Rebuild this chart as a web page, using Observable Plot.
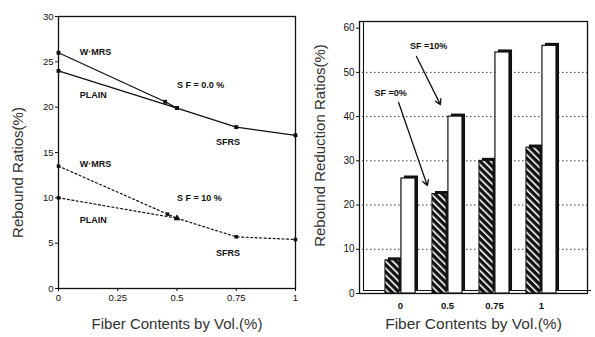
<!DOCTYPE html>
<html><head><meta charset="utf-8">
<script src="https://cdn.jsdelivr.net/npm/d3@7"></script>
<script src="https://cdn.jsdelivr.net/npm/@observablehq/plot@0.6"></script>
<style>
body{margin:0;background:#fff;width:595px;height:337px;overflow:hidden;position:relative;font-family:"Liberation Sans",Arial,sans-serif;}
#left{position:absolute;left:0;top:0;}
#right{position:absolute;left:300px;top:0;}
</style></head><body>
<div id="left"></div><div id="right"></div>
<script>
// ---------- Left panel data ----------
const leftXTicks = [0, 0.25, 0.5, 0.75, 1];
const leftYTicks = [0, 5, 10, 15, 20, 25, 30];
const wmrs0X = [0, 0.45, 0.5],  wmrs0Y = [26, 20.6, 19.9];
const plain0X = [0, 0.5],       plain0Y = [24, 19.9];
const sfrs0X = [0.5, 0.75, 1],  sfrs0Y = [19.9, 17.8, 16.9];
const wmrs10X = [0, 0.46, 0.5], wmrs10Y = [13.5, 8.2, 7.75];
const plain10X = [0, 0.5],      plain10Y = [10, 7.75];
const sfrs10X = [0.5, 0.75, 1], sfrs10Y = [7.75, 5.7, 5.4];
const leftLabelText = ["W·MRS", "PLAIN", "S F = 0.0 %", "SFRS", "W·MRS", "S F = 10 %", "PLAIN", "SFRS"];
const leftLabelX = [0.09, 0.09, 0.5, 0.665, 0.09, 0.5, 0.09, 0.665];
const leftLabelY = [26.1, 21.3, 22.4, 16.1, 13.7, 10.0, 7.5, 3.9];

// ---------- Right panel data ----------
const categories = ["0", "0.5", "0.75", "1"];
const sf0 = [7.5, 22.5, 30, 33];
const sf10 = [26, 40, 54.5, 56];
const rightYTicks = [0, 10, 20, 30, 40, 50, 60];
const gridY = [10, 20, 30, 40, 50];
const noteText = ["SF =10%", "SF =0%"];
const noteX = [0.6, -0.21];
const noteY = [56, 45.2];
const arrowFromX = [0.34, -0.04], arrowFromY = [53.6, 43.2];
const arrowToX = [0.85, 0.57],   arrowToY = [42.7, 24.4];

const pts = (xs, ys) => xs.map((x, i) => ({x, y: ys[i]}));
const font = '"Liberation Sans", Arial, Helvetica, sans-serif';

// ---------- Left chart ----------
const solid = {x: "x", y: "y", stroke: "#111", strokeWidth: 1.3};
const dotted = {x: "x", y: "y", stroke: "#111", strokeWidth: 1.2, strokeDasharray: "2,2.5"};
const dotOpt = {x: "x", y: "y", r: 2, fill: "#111"};
const leftLabels = leftLabelText.map((t, i) => ({t, x: leftLabelX[i], y: leftLabelY[i]}));

const left = Plot.plot({
  width: 300, height: 337,
  marginLeft: 58, marginRight: 5, marginTop: 16, marginBottom: 49,
  x: {domain: [0, 1]},
  y: {domain: [0, 30]},
  style: {fontFamily: font, fontSize: "9px", color: "#111", background: "transparent"},
  marks: [
    Plot.frame({stroke: "#111", strokeWidth: 1.3}),
    Plot.axisX({ticks: leftXTicks, tickFormat: d => String(d), tickSize: 3, tickPadding: 3, label: null, fontSize: 9.5}),
    Plot.axisY({ticks: leftYTicks, tickFormat: d => String(d), tickSize: 3, tickPadding: 2, label: null, fontSize: 9.5}),
    Plot.line(pts(wmrs0X, wmrs0Y), solid),
    Plot.line(pts(plain0X, plain0Y), solid),
    Plot.line(pts(sfrs0X, sfrs0Y), solid),
    Plot.line(pts(wmrs10X, wmrs10Y), dotted),
    Plot.line(pts(plain10X, plain10Y), dotted),
    Plot.line(pts(sfrs10X, sfrs10Y), dotted),
    Plot.dot([...pts(wmrs0X, wmrs0Y), ...pts(plain0X, plain0Y), ...pts(sfrs0X, sfrs0Y)], {...dotOpt, symbol: "square", r: 2.2}),
    Plot.dot([...pts(wmrs10X.slice(0, 2), wmrs10Y.slice(0, 2)), ...pts(plain10X.slice(0, 1), plain10Y.slice(0, 1)), ...pts(sfrs10X.slice(1), sfrs10Y.slice(1))], {...dotOpt, symbol: "square", r: 2}),
    Plot.dot(pts([0.5], [7.75]), {...dotOpt, symbol: "triangle", r: 2.6}),
    Plot.text(leftLabels, {x: "x", y: "y", text: "t", textAnchor: "start", fontSize: 9, fontWeight: "bold", fill: "#111"}),
    Plot.text(["Fiber Contents by Vol.(%)"], {frameAnchor: "bottom", textAnchor: "middle", dy: 40, fontSize: 15, fill: "#333"}),
    Plot.text(["Rebound Ratios(%)"], {frameAnchor: "left", textAnchor: "middle", rotate: -90, dx: -40, dy: 20, fontSize: 15, fill: "#333"})
  ]
});
document.getElementById("left").append(left);

// ---------- Right chart ----------
const bars = categories.map((c, i) => ({i, c, sf0: sf0[i], sf10: sf10[i]}));
const xMin = -0.872, xMax = 3.979;
const notes = noteText.map((t, i) => ({t, x: noteX[i], y: noteY[i]}));
const arrows = arrowFromX.map((x, i) => ({x1: x, y1: arrowFromY[i], x2: arrowToX[i], y2: arrowToY[i]}));

const right = Plot.plot({
  width: 295, height: 337,
  marginLeft: 59, marginRight: 8, marginTop: 21, marginBottom: 44,
  x: {domain: [xMin, xMax]},
  y: {domain: [0, 61.5]},
  style: {fontFamily: font, fontSize: "9px", color: "#111", background: "transparent"},
  marks: [
    Plot.ruleY(gridY, {stroke: "#222", strokeWidth: 0.9, strokeDasharray: "1.5,2.5", x1: xMin, x2: xMax, dx: 3}),
    Plot.frame({stroke: "#111", strokeWidth: 1.3}),
    Plot.ruleX([xMin], {y1: 0.6, y2: 61.5, dx: 4, stroke: "#111", strokeWidth: 1.1}),
    Plot.ruleY([0], {x1: xMin, x2: xMax, dy: -3, dx: 4, stroke: "#111", strokeWidth: 1}),
    // 3D depth (side + top) of bars
    Plot.rectY(bars, {x1: d => d.i - 0.32, x2: d => d.i - 0.02, y1: 0, y2: "sf0", dx: 3, dy: -2.5, fill: "#111"}),
    Plot.rectY(bars, {x1: d => d.i + 0.02, x2: d => d.i + 0.32, y1: 0, y2: "sf10", dx: 3, dy: -2.5, fill: "#111"}),
    // front faces
    Plot.rectY(bars, {x1: d => d.i - 0.32, x2: d => d.i - 0.02, y1: 0, y2: "sf0", fill: "#111", stroke: "#111", strokeWidth: 1, className: "hatched"}),
    Plot.rectY(bars, {x1: d => d.i + 0.02, x2: d => d.i + 0.32, y1: 0, y2: "sf10", fill: "#fff", stroke: "#111", strokeWidth: 1.2}),
    Plot.axisY({ticks: rightYTicks, tickFormat: d => String(d), tickSize: 3, tickPadding: 2, label: null, fontSize: 10}),
    Plot.axisX({ticks: [0, 1, 2, 3], tickFormat: i => categories[i], tickSize: 0, tickPadding: 9, label: null, fontSize: 9.5, fontWeight: "bold"}),
    Plot.arrow(arrows, {x1: "x1", y1: "y1", x2: "x2", y2: "y2", stroke: "#111", strokeWidth: 1.3, headLength: 7}),
    Plot.text(notes, {x: "x", y: "y", text: "t", fontSize: 9, fontWeight: "bold", fill: "#111"}),
    Plot.text(["Fiber Contents by Vol.(%)"], {frameAnchor: "bottom", textAnchor: "middle", dy: 35, fontSize: 15.5, fill: "#333"}),
    Plot.text(["Rebound Reduction Ratios(%)"], {frameAnchor: "left", textAnchor: "middle", rotate: -90, dx: -39, dy: -12, fontSize: 15, fill: "#333"})
  ]
});

// hatch pattern for the SF = 0% bars
const ns = "http://www.w3.org/2000/svg";
const defs = document.createElementNS(ns, "defs");
defs.innerHTML = '<pattern id="hatch" width="5" height="5" patternUnits="userSpaceOnUse" patternTransform="rotate(-45)">' +
  '<rect width="5" height="5" fill="#111"/><rect x="0" y="0" width="1.6" height="5" fill="#fff"/></pattern>';
right.insertBefore(defs, right.firstChild);
d3.select(right).selectAll(".hatched rect").attr("fill", "url(#hatch)");
document.getElementById("right").append(right);
</script>
</body></html>
